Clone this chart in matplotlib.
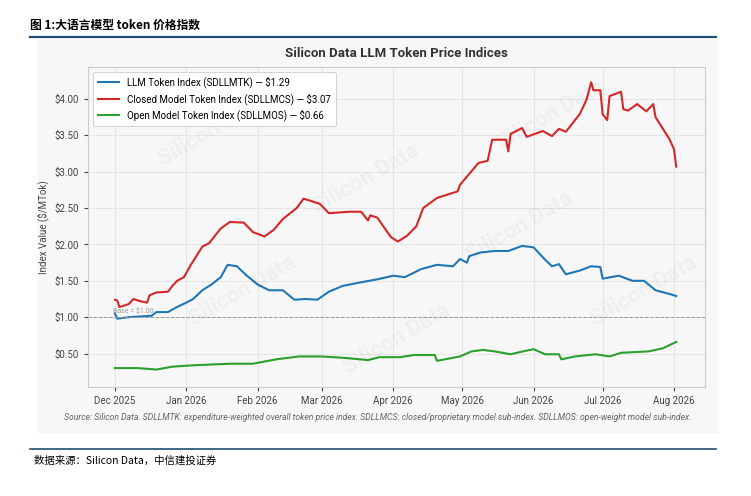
import matplotlib
matplotlib.use("Agg")
import matplotlib.pyplot as plt
import matplotlib.dates as mdates
import numpy as np
import pandas as pd

plt.rcParams['font.family'] = ['Roboto', 'Noto Sans CJK SC', 'DejaVu Sans']

start = pd.Timestamp('2025-12-01')

# day offsets from 2025-12-01 and index values
closed_days = [0, 1, 2, 6, 8, 11, 14, 15, 18, 23, 25, 27, 30, 33, 38, 41, 46, 50, 56, 60, 65, 69, 73, 79,
               82, 89, 93, 102, 107, 110, 111, 114, 120, 123, 127, 131, 134, 140, 149, 150, 158, 162, 164,
               170, 171, 172, 177, 179, 186, 190, 193, 196, 202, 205, 207, 208, 211, 212, 214, 215, 220,
               221, 223, 227, 231, 234, 235, 239, 241, 243, 244]
closed_vals = [1.24, 1.23, 1.14, 1.18, 1.25, 1.22, 1.20, 1.30, 1.34, 1.35, 1.43, 1.50, 1.55, 1.72, 1.97,
               2.02, 2.22, 2.31, 2.30, 2.17, 2.11, 2.20, 2.35, 2.50, 2.63, 2.56, 2.43, 2.45, 2.45, 2.33,
               2.40, 2.37, 2.10, 2.04, 2.12, 2.25, 2.50, 2.64, 2.73, 2.82, 3.12, 3.15, 3.44, 3.44, 3.28,
               3.52, 3.60, 3.48, 3.56, 3.49, 3.59, 3.55, 3.79, 3.99, 4.23, 4.12, 4.12, 3.79, 3.71, 4.04,
               4.10, 3.86, 3.84, 3.93, 3.83, 3.93, 3.75, 3.55, 3.45, 3.31, 3.07]

llm_days = [0, 1, 6, 11, 16, 18, 23, 27, 31, 34, 38, 42, 46, 49, 53, 57, 62, 67, 73, 78, 83, 88, 93, 99,
            107, 114, 121, 126, 133, 140, 147, 150, 153, 154, 159, 165, 171, 177, 182, 187, 190, 193,
            196, 202, 207, 211, 212, 219, 225, 230, 235, 241, 244]
llm_vals = [1.05, 0.98, 1.00, 1.01, 1.02, 1.07, 1.07, 1.14, 1.20, 1.25, 1.37, 1.45, 1.55, 1.72, 1.70,
            1.58, 1.45, 1.37, 1.37, 1.24, 1.25, 1.24, 1.35, 1.43, 1.48, 1.52, 1.57, 1.55, 1.66, 1.72,
            1.70, 1.80, 1.75, 1.84, 1.89, 1.91, 1.91, 1.98, 1.96, 1.79, 1.70, 1.73, 1.59, 1.64, 1.70,
            1.69, 1.53, 1.57, 1.50, 1.50, 1.37, 1.32, 1.29]

open_days = [0, 10, 18, 25, 35, 50, 60, 70, 80, 90, 100, 110, 115, 124, 130, 139, 140, 150, 155, 160,
             165, 172, 176, 182, 187, 193, 194, 200, 209, 215, 220, 232, 238, 244]
open_vals = [0.30, 0.30, 0.28, 0.32, 0.34, 0.36, 0.36, 0.42, 0.46, 0.46, 0.44, 0.41, 0.45, 0.45, 0.48,
             0.48, 0.40, 0.46, 0.53, 0.55, 0.53, 0.49, 0.52, 0.56, 0.49, 0.49, 0.42, 0.46, 0.49, 0.46,
             0.51, 0.53, 0.57, 0.66]

month_ticks = pd.date_range('2025-12-01', '2026-08-01', freq='MS')


def to_dates(days):
    return start + pd.to_timedelta(days, unit='D')


fig = plt.figure(figsize=(7.51, 4.96), dpi=100)
fig.patch.set_facecolor('white')

# header / footer of the report page
fig.text(30 / 751, 1 - 25 / 496, '图 1:大语言模型 token 价格指数', fontsize=8.5, fontweight='bold',
         va='center', family=['Noto Sans CJK SC', 'DejaVu Sans'])
fig.add_artist(plt.Line2D([30 / 751, 716 / 751], [1 - 37 / 496] * 2, color='#1f4e79', lw=1.6))
fig.add_artist(plt.Line2D([30 / 751, 716 / 751], [1 - 449 / 496] * 2, color='#1f4e79', lw=1.2))
fig.text(34 / 751, 1 - 461 / 496, '数据来源：Silicon Data，中信建投证券', fontsize=7.5, style='italic',
         va='center', family=['Noto Sans CJK SC', 'DejaVu Sans'])

# chart panel background
fig.add_artist(plt.Rectangle((38 / 751, 1 - 432 / 496), 680 / 751, 392 / 496,
                             transform=fig.transFigure, color='#f7f7f7', zorder=-1))

ax = fig.add_axes([88 / 751, 1 - 387 / 496, 617 / 751, 320 / 496])
ax.set_facecolor('#f7f7f7')

ax.plot(to_dates(llm_days), llm_vals, color='#1f77b4', lw=1.5,
        label=f'LLM Token Index (SDLLMTK) — ${llm_vals[-1]:.2f}')
ax.plot(to_dates(closed_days), closed_vals, color='#d62728', lw=1.5,
        label=f'Closed Model Token Index (SDLLMCS) — ${closed_vals[-1]:.2f}')
ax.plot(to_dates(open_days), open_vals, color='#2ca02c', lw=1.5,
        label=f'Open Model Token Index (SDLLMOS) — ${open_vals[-1]:.2f}')

ax.axhline(1.0, color='#999999', ls='--', lw=0.7)
ax.text(to_dates([-1])[0], 1.02, 'Base = $1.00', fontsize=5, color='#999999', va='bottom')

ax.set_xlim(to_dates([-11.7])[0], to_dates([256.5])[0])
ax.set_ylim(0.04, 4.44)
ax.set_yticks([0.5, 1.0, 1.5, 2.0, 2.5, 3.0, 3.5, 4.0])
ax.yaxis.set_major_formatter(plt.FuncFormatter(lambda v, p: f'${v:.2f}'))
ax.set_xticks(month_ticks)
ax.xaxis.set_major_formatter(mdates.DateFormatter('%b %Y'))
ax.tick_params(labelsize=7, colors='#444444', length=3)
ax.grid(True, color='#e2e2e2', lw=0.6)
for s in ax.spines.values():
    s.set_color('#cccccc')
ax.set_ylabel('Index Value ($/MTok)', fontsize=7, color='#444444')
ax.set_title('Silicon Data LLM Token Price Indices', fontsize=9.5, fontweight='bold', color='#333333', pad=7)

leg = ax.legend(loc='upper left', fontsize=7, frameon=True, framealpha=1, edgecolor='#cccccc',
                handlelength=2.2, borderpad=0.5, labelspacing=0.45)
leg.get_frame().set_linewidth(0.6)

# faint watermarks
for wx, wy in [(0.2, 0.8), (0.45, 0.65), (0.7, 0.5), (0.25, 0.3), (0.5, 0.15), (0.75, 0.85), (0.9, 0.3)]:
    ax.text(wx, wy, 'Silicon Data', transform=ax.transAxes, fontsize=16, color='#000000', alpha=0.035,
            rotation=30, ha='center', va='center', fontweight='bold')

fig.text(378 / 751, 1 - 418 / 496,
         'Source: Silicon Data. SDLLMTK: expenditure-weighted overall token price index. SDLLMCS: '
         'closed/proprietary model sub-index. SDLLMOS: open-weight model sub-index.',
         fontsize=6.2, style='italic', color='#666666', ha='center', va='center')

fig.savefig('out.png', dpi=100)
